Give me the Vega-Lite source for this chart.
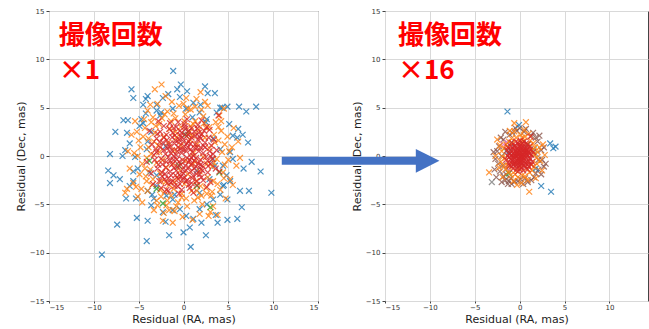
{
"$schema":"https://vega.github.io/schema/vega-lite/v6.json",
"padding":{"left":14,"top":6,"right":0,"bottom":2},
"spacing":67,
"bounds":"flush",
"resolve":{"scale":{"x":"independent","y":"independent"}},
"config":{
 "view":{"stroke":"#444","strokeWidth":1},
 "axis":{"domain":false,"grid":true,"gridColor":"#d9d9d9","gridWidth":1,"labelFont":"DejaVu Sans","labelFontSize":7,"labelColor":"#333","tickColor":"#444","tickSize":3,"labelPadding":2,"titleFont":"DejaVu Sans","titleFontSize":11,"titleFontWeight":"normal","titleColor":"#222","titlePadding":3},
 "axisX":{"tickSize":2,"labelPadding":0.5,"titlePadding":3},
 "legend":{"disable":true}
},
"datasets":{
 "left":[
{"s":"b","x":-1.15,"y":8.8},{"s":"b","x":-9.1,"y":-10.2},{"s":"b","x":9.8,"y":-3.8},{"s":"b","x":8.6,"y":-1.6},{"s":"b","x":8.1,"y":5.1},{"s":"b","x":7.0,"y":4.6},{"s":"b","x":7.6,"y":-0.6},{"s":"b","x":7.2,"y":1.4},{"s":"b","x":7.3,"y":-3.6},{"s":"b","x":6.3,"y":-3.6},{"s":"b","x":6.5,"y":-5.3},{"s":"b","x":6.0,"y":-6.5},{"s":"b","x":4.9,"y":-6.6},{"s":"b","x":6.7,"y":-1.3},{"s":"b","x":4.9,"y":-4.5},{"s":"b","x":5.1,"y":3.3},{"s":"b","x":6.2,"y":5.1},{"s":"b","x":4.9,"y":5.1},{"s":"b","x":3.7,"y":4.5},{"s":"b","x":4.3,"y":5.0},{"s":"b","x":2.4,"y":7.2},{"s":"b","x":2.7,"y":6.5},{"s":"b","x":3.5,"y":6.5},{"s":"b","x":0.4,"y":6.7},{"s":"b","x":-0.3,"y":7.4},{"s":"b","x":-0.7,"y":6.9},{"s":"b","x":-0.4,"y":6.1},{"s":"b","x":-1.7,"y":6.4},{"s":"b","x":-2.3,"y":6.0},{"s":"b","x":-4.0,"y":6.2},{"s":"b","x":-4.2,"y":5.9},{"s":"b","x":-4.5,"y":5.3},{"s":"b","x":-5.8,"y":6.9},{"s":"b","x":-5.6,"y":6.0},{"s":"b","x":-6.2,"y":3.7},{"s":"b","x":-6.7,"y":3.7},{"s":"b","x":-7.6,"y":2.5},{"s":"b","x":-6.3,"y":2.4},{"s":"b","x":-8.2,"y":0.2},{"s":"b","x":-8.4,"y":-1.5},{"s":"b","x":-8.2,"y":-2.8},{"s":"b","x":-7.8,"y":-2.0},{"s":"b","x":-7.1,"y":-2.4},{"s":"b","x":-6.8,"y":0.0},{"s":"b","x":-6.4,"y":-4.4},{"s":"b","x":-7.4,"y":-7.1},{"s":"b","x":-6.0,"y":-3.1},{"s":"b","x":-5.6,"y":-2.6},{"s":"b","x":-5.2,"y":-6.4},{"s":"b","x":-5.6,"y":-1.6},{"s":"b","x":-5.3,"y":-4.4},{"s":"b","x":-4.0,"y":-6.7},{"s":"b","x":-4.1,"y":-8.8},{"s":"b","x":-2.0,"y":-6.8},{"s":"b","x":-1.6,"y":-8.2},{"s":"b","x":0.0,"y":-7.9},{"s":"b","x":0.7,"y":-7.4},{"s":"b","x":0.8,"y":-9.4},{"s":"b","x":1.1,"y":-6.5},{"s":"b","x":2.0,"y":-6.9},{"s":"b","x":2.5,"y":-8.2},{"s":"b","x":3.6,"y":-6.1},{"s":"b","x":3.8,"y":-6.9},{"s":"b","x":4.1,"y":-4.0},{"s":"b","x":5.2,"y":-2.6},{"s":"b","x":5.5,"y":-0.3},{"s":"b","x":5.2,"y":0.4},{"s":"b","x":6.0,"y":1.9},{"s":"b","x":6.1,"y":2.8},{"s":"b","x":5.5,"y":2.1},{"s":"b","x":6.6,"y":2.2},{"s":"b","x":4.1,"y":5.0},{"s":"b","x":1.9,"y":5.3},{"s":"b","x":1.1,"y":5.5},{"s":"b","x":-3.0,"y":5.3},{"s":"b","x":-3.0,"y":4.7},{"s":"b","x":-4.2,"y":4.4},{"s":"b","x":-4.5,"y":3.4},{"s":"b","x":-4.7,"y":3.8},{"s":"b","x":-4.9,"y":3.1},{"s":"b","x":-6.0,"y":1.3},{"s":"b","x":-6.5,"y":0.6},{"s":"b","x":-5.4,"y":-0.1},{"s":"b","x":-5.1,"y":-1.3},{"s":"b","x":-4.0,"y":-3.6},{"s":"b","x":-3.3,"y":-4.4},{"s":"b","x":-3.6,"y":-5.1},{"s":"b","x":-2.3,"y":-5.8},{"s":"b","x":-1.2,"y":-5.6},{"s":"b","x":-0.4,"y":-5.5},{"s":"b","x":0.3,"y":-6.2},{"s":"b","x":1.8,"y":-5.5},{"s":"b","x":2.6,"y":-5.0},{"s":"b","x":3.3,"y":-4.5},{"s":"b","x":4.4,"y":-3.1},{"s":"b","x":4.8,"y":-2.0},{"s":"b","x":4.4,"y":-1.0},{"s":"b","x":4.1,"y":0.7},{"s":"b","x":3.3,"y":1.8},{"s":"b","x":2.6,"y":3.8},{"s":"b","x":1.8,"y":4.5},{"s":"b","x":0.3,"y":4.9},{"s":"b","x":-1.2,"y":4.9},{"s":"b","x":-2.6,"y":4.2},{"s":"b","x":-3.6,"y":2.5},{"s":"b","x":-4.1,"y":0.7},{"s":"b","x":-3.8,"y":-1.7},{"s":"b","x":-3.0,"y":-3.1},{"s":"b","x":-1.9,"y":-4.1},{"s":"b","x":1.8,"y":-3.8},{"s":"b","x":2.9,"y":-2.4},{"s":"b","x":3.3,"y":-0.3},{"s":"b","x":-1.2,"y":-4.5},{"s":"b","x":-2.0,"y":1.0},{"s":"b","x":1.5,"y":-1.5},{"s":"b","x":0.5,"y":2.5},{"s":"b","x":-3.0,"y":-2.0},{"s":"b","x":2.5,"y":3.5},{"s":"b","x":-1.0,"y":-4.0},{"s":"b","x":3.5,"y":-1.0},{"s":"b","x":-4.0,"y":1.5},{"s":"b","x":1.0,"y":4.0},{"s":"b","x":-2.5,"y":4.5},{"s":"b","x":4.5,"y":-3.0},{"s":"b","x":-3.5,"y":-4.0},
{"s":"o","x":-2.45,"y":7.4},{"s":"o","x":-3.2,"y":6.9},{"s":"o","x":1.45,"y":5.9},{"s":"o","x":-5.4,"y":3.6},{"s":"o","x":-5.2,"y":2.5},{"s":"o","x":-6.3,"y":-3.4},{"s":"o","x":-6.5,"y":-3.8},{"s":"o","x":-5.1,"y":-4.2},{"s":"o","x":-2.3,"y":-6.7},{"s":"o","x":-1.2,"y":-6.9},{"s":"o","x":-1.0,"y":-5.7},{"s":"o","x":1.8,"y":-6.0},{"s":"o","x":3.3,"y":-5.2},{"s":"o","x":-0.5,"y":5.2},{"s":"o","x":0.8,"y":4.8},{"s":"o","x":-1.8,"y":4.6},{"s":"o","x":2.2,"y":4.1},{"s":"o","x":-3.4,"y":4.0},{"s":"o","x":3.6,"y":3.5},{"s":"o","x":-4.3,"y":2.9},{"s":"o","x":4.2,"y":2.6},{"s":"o","x":-2.7,"y":3.3},{"s":"o","x":1.3,"y":3.6},{"s":"o","x":-0.9,"y":3.9},{"s":"o","x":0.2,"y":4.3},{"s":"o","x":2.9,"y":3.0},{"s":"o","x":-3.9,"y":1.8},{"s":"o","x":4.6,"y":1.2},{"s":"o","x":-4.8,"y":0.9},{"s":"o","x":5.0,"y":-0.4},{"s":"o","x":-4.6,"y":-0.8},{"s":"o","x":4.4,"y":-1.7},{"s":"o","x":-4.2,"y":-2.1},{"s":"o","x":3.8,"y":-2.9},{"s":"o","x":-3.5,"y":-3.0},{"s":"o","x":2.6,"y":-3.9},{"s":"o","x":-2.5,"y":-4.2},{"s":"o","x":1.2,"y":-4.6},{"s":"o","x":-0.6,"y":-4.8},{"s":"o","x":0.4,"y":-5.2},{"s":"o","x":-1.9,"y":-5.1},{"s":"o","x":2.1,"y":-5.0},{"s":"o","x":3.1,"y":-4.1},{"s":"o","x":-3.0,"y":-4.6},{"s":"o","x":-4.0,"y":-3.6},{"s":"o","x":4.1,"y":-3.5},{"s":"o","x":-4.9,"y":-1.9},{"s":"o","x":5.2,"y":-2.4},{"s":"o","x":-5.5,"y":0.3},{"s":"o","x":5.4,"y":0.9},{"s":"o","x":-5.0,"y":1.6},{"s":"o","x":4.9,"y":2.0},{"s":"o","x":-3.2,"y":2.4},{"s":"o","x":3.4,"y":2.2},{"s":"o","x":-2.2,"y":2.0},{"s":"o","x":2.4,"y":1.9},{"s":"o","x":-1.5,"y":2.8},{"s":"o","x":1.7,"y":2.7},{"s":"o","x":-0.3,"y":3.0},{"s":"o","x":0.6,"y":2.4},{"s":"o","x":-2.8,"y":1.1},{"s":"o","x":2.9,"y":0.8},{"s":"o","x":-3.6,"y":0.2},{"s":"o","x":3.7,"y":-0.3},{"s":"o","x":-3.0,"y":-0.7},{"s":"o","x":3.2,"y":-1.1},{"s":"o","x":-2.6,"y":-1.8},{"s":"o","x":2.7,"y":-2.2},{"s":"o","x":-2.0,"y":-2.7},{"s":"o","x":1.9,"y":-3.1},{"s":"o","x":-1.1,"y":-3.4},{"s":"o","x":0.9,"y":-3.6},{"s":"o","x":-0.2,"y":-3.9},{"s":"o","x":0.1,"y":-2.9},{"s":"o","x":-1.6,"y":-3.0},{"s":"o","x":1.4,"y":-2.6},{"s":"o","x":-2.3,"y":-0.4},{"s":"o","x":2.2,"y":-0.1},{"s":"o","x":-1.7,"y":1.4},{"s":"o","x":1.5,"y":1.2},{"s":"o","x":-0.8,"y":1.9},{"s":"o","x":0.7,"y":1.7},{"s":"o","x":-4.4,"y":3.8},{"s":"o","x":4.0,"y":4.2},{"s":"o","x":-1.3,"y":5.6},{"s":"o","x":0.3,"y":6.0},{"s":"o","x":2.7,"y":5.2},{"s":"o","x":-2.9,"y":5.4},{"s":"o","x":3.0,"y":-5.8},{"s":"o","x":-3.3,"y":-5.6},{"s":"o","x":-0.1,"y":-6.3},{"s":"o","x":1.0,"y":-6.6},{"s":"o","x":5.9,"y":-1.0},{"s":"o","x":-6.0,"y":-1.3},{"s":"o","x":6.1,"y":1.5},{"s":"o","x":-5.8,"y":2.2},{"s":"o","x":-1.0,"y":0.6},{"s":"o","x":0.9,"y":-0.9},{"s":"o","x":-0.4,"y":-1.5},{"s":"o","x":1.1,"y":0.3},{"s":"o","x":-1.9,"y":-1.2},{"s":"o","x":1.8,"y":-1.6},{"s":"o","x":-2.4,"y":3.9},{"s":"o","x":2.3,"y":3.4},{"s":"o","x":-3.7,"y":-1.4},{"s":"o","x":3.5,"y":1.4},{"s":"o","x":-4.1,"y":-0.2},{"s":"o","x":4.3,"y":0.4},{"s":"o","x":-0.7,"y":-2.2},{"s":"o","x":0.5,"y":-1.9},{"s":"o","x":-1.4,"y":-4.1},{"s":"o","x":1.6,"y":-4.3},{"s":"o","x":-2.1,"y":-3.7},{"s":"o","x":2.5,"y":-3.3},{"s":"o","x":-3.1,"y":3.1},{"s":"o","x":3.9,"y":3.0},{"s":"o","x":-4.5,"y":2.0},{"s":"o","x":5.6,"y":2.9},{"s":"o","x":-5.6,"y":-2.8},{"s":"o","x":4.7,"y":-4.4},{"s":"o","x":-4.6,"y":-4.8},{"s":"o","x":3.8,"y":-6.1},{"s":"o","x":-2.0,"y":6.2},{"s":"o","x":1.9,"y":6.6},{"s":"o","x":-3.7,"y":5.3},{"s":"o","x":4.5,"y":4.9},{"s":"o","x":-0.3,"y":1.1},{"s":"o","x":0.2,"y":-0.5},{"s":"o","x":-1.2,"y":-0.8},{"s":"o","x":1.3,"y":-0.6},{"s":"o","x":-0.9,"y":2.5},{"s":"o","x":0.8,"y":3.1},{"s":"o","x":-2.7,"y":0.4},{"s":"o","x":2.6,"y":-0.8},{"s":"o","x":-3.4,"y":-2.4},{"s":"o","x":3.3,"y":-2.6},{"s":"o","x":-1.8,"y":-4.6},{"s":"o","x":0.3,"y":-4.4},{"s":"o","x":2.0,"y":4.8},{"s":"o","x":-1.1,"y":4.4},{"s":"o","x":-5.3,"y":-3.2},{"s":"o","x":5.5,"y":-3.0},{"s":"o","x":-2.2,"y":-5.9},{"s":"o","x":2.8,"y":-6.2},{"s":"o","x":0.0,"y":5.4},{"s":"o","x":-4.0,"y":4.7},{"s":"o","x":6.3,"y":-0.2},{"s":"o","x":-6.2,"y":0.5},{"s":"o","x":1.0,"y":2.1},{"s":"o","x":-2.5,"y":-2.6},
{"s":"o","x":-3.3,"y":1.5},{"s":"o","x":3.4,"y":-0.7},{"s":"o","x":-1.0,"y":-2.7},{"s":"o","x":1.1,"y":3.3},{"s":"o","x":-4.1,"y":-2.6},{"s":"o","x":4.5,"y":-2.3},{"s":"o","x":-2.1,"y":4.3},{"s":"o","x":2.0,"y":-4.1},{"s":"o","x":-3.9,"y":0.9},{"s":"o","x":3.9,"y":1.6},{"s":"o","x":-0.8,"y":-5.2},{"s":"o","x":0.5,"y":4.9},{"s":"o","x":-4.7,"y":-3.4},{"s":"o","x":4.2,"y":3.6},{"s":"o","x":-2.6,"y":-3.5},{"s":"o","x":2.5,"y":2.9},{"s":"o","x":-1.4,"y":3.6},{"s":"o","x":1.5,"y":-3.6},{"s":"o","x":-3.6,"y":3.5},{"s":"o","x":3.2,"y":-3.7},{"s":"o","x":-0.2,"y":-4.3},{"s":"o","x":0.1,"y":3.6},{"s":"o","x":-5.1,"y":0.0},{"s":"o","x":5.1,"y":0.5},{"s":"o","x":-2.9,"y":-5.1},{"s":"o","x":2.4,"y":5.6},{"s":"o","x":-4.3,"y":-1.3},{"s":"o","x":4.6,"y":-0.9},{"s":"o","x":-1.6,"y":-5.6},{"s":"o","x":1.3,"y":5.1},
{"s":"g","x":-3.0,"y":-3.4},{"s":"g","x":-2.3,"y":-4.9},{"s":"g","x":4.0,"y":-1.7},{"s":"g","x":-0.5,"y":-1.0},{"s":"g","x":1.5,"y":-3.1},{"s":"g","x":0.2,"y":2.2},{"s":"g","x":-3.8,"y":-0.5},{"s":"g","x":3.0,"y":-5.3},
{"s":"r","x":-3.0,"y":1.8},{"s":"r","x":-2.6,"y":2.5},{"s":"r","x":-2.2,"y":3.1},{"s":"r","x":-1.5,"y":3.4},{"s":"r","x":-0.8,"y":3.0},{"s":"r","x":0.1,"y":3.3},{"s":"r","x":0.9,"y":2.9},{"s":"r","x":1.6,"y":3.2},{"s":"r","x":2.3,"y":2.6},{"s":"r","x":2.8,"y":1.9},{"s":"r","x":3.1,"y":1.1},{"s":"r","x":3.3,"y":0.2},{"s":"r","x":3.0,"y":-0.8},{"s":"r","x":2.7,"y":-1.7},{"s":"r","x":2.2,"y":-2.5},{"s":"r","x":1.5,"y":-3.0},{"s":"r","x":0.7,"y":-3.3},{"s":"r","x":-0.2,"y":-3.5},{"s":"r","x":-1.0,"y":-3.1},{"s":"r","x":-1.8,"y":-2.8},{"s":"r","x":-2.4,"y":-2.1},{"s":"r","x":-2.9,"y":-1.3},{"s":"r","x":-3.2,"y":-0.4},{"s":"r","x":-3.1,"y":0.7},{"s":"r","x":-2.3,"y":1.4},{"s":"r","x":-1.9,"y":2.2},{"s":"r","x":-1.2,"y":2.4},{"s":"r","x":-0.4,"y":2.6},{"s":"r","x":0.5,"y":2.2},{"s":"r","x":1.2,"y":2.5},{"s":"r","x":1.9,"y":1.8},{"s":"r","x":2.4,"y":0.9},{"s":"r","x":2.5,"y":-0.1},{"s":"r","x":2.1,"y":-1.0},{"s":"r","x":1.8,"y":-1.9},{"s":"r","x":1.0,"y":-2.3},{"s":"r","x":0.3,"y":-2.6},{"s":"r","x":-0.6,"y":-2.4},{"s":"r","x":-1.4,"y":-2.0},{"s":"r","x":-2.0,"y":-1.2},{"s":"r","x":-2.5,"y":-0.3},{"s":"r","x":-2.2,"y":0.6},{"s":"r","x":-1.6,"y":1.2},{"s":"r","x":-0.9,"y":1.6},{"s":"r","x":-0.2,"y":1.9},{"s":"r","x":0.6,"y":1.5},{"s":"r","x":1.3,"y":1.2},{"s":"r","x":1.7,"y":0.5},{"s":"r","x":1.9,"y":-0.4},{"s":"r","x":1.4,"y":-1.1},{"s":"r","x":0.8,"y":-1.6},{"s":"r","x":0.0,"y":-1.8},{"s":"r","x":-0.8,"y":-1.5},{"s":"r","x":-1.3,"y":-0.9},{"s":"r","x":-1.7,"y":-0.1},{"s":"r","x":-1.3,"y":0.6},{"s":"r","x":-0.6,"y":0.9},{"s":"r","x":0.1,"y":1.0},{"s":"r","x":0.8,"y":0.7},{"s":"r","x":1.1,"y":0.0},{"s":"r","x":0.9,"y":-0.8},{"s":"r","x":0.2,"y":-1.0},{"s":"r","x":-0.5,"y":-0.6},{"s":"r","x":-0.8,"y":0.1},{"s":"r","x":-0.2,"y":0.3},{"s":"r","x":0.4,"y":-0.2},{"s":"r","x":-0.1,"y":-0.4},{"s":"r","x":0.3,"y":0.5},{"s":"r","x":-1.1,"y":2.9},{"s":"r","x":1.5,"y":-2.6},{"s":"r","x":-2.7,"y":-2.6},{"s":"r","x":2.9,"y":2.7},{"s":"r","x":-3.5,"y":1.2},{"s":"r","x":3.6,"y":-1.3},{"s":"r","x":-1.7,"y":-3.6},{"s":"r","x":0.4,"y":3.8},{"s":"r","x":-0.5,"y":-3.9},{"s":"r","x":3.9,"y":4.2},{"s":"r","x":2.0,"y":3.7},{"s":"r","x":-2.8,"y":3.6},{"s":"r","x":-3.6,"y":-1.8},{"s":"r","x":3.7,"y":0.6},{"s":"r","x":1.1,"y":-3.8},{"s":"r","x":-1.9,"y":-3.5},{"s":"r","x":2.6,"y":-3.2},{"s":"r","x":-3.4,"y":-2.9},{"s":"r","x":-0.3,"y":2.1},{"s":"r","x":0.9,"y":-2.8},{"s":"r","x":-2.0,"y":0.2},{"s":"r","x":2.2,"y":0.3},{"s":"r","x":-0.7,"y":-1.1},{"s":"r","x":1.6,"y":1.7},{"s":"r","x":-1.5,"y":-1.6},{"s":"r","x":0.5,"y":0.9},{"s":"r","x":-0.9,"y":-2.0},{"s":"r","x":1.2,"y":-1.3},{"s":"r","x":-2.6,"y":0.9},{"s":"r","x":2.7,"y":-0.5},{"s":"r","x":-1.0,"y":1.3},{"s":"r","x":0.7,"y":-0.4},{"s":"r","x":-0.4,"y":-2.9},{"s":"r","x":0.2,"y":2.8},{"s":"r","x":-1.8,"y":0.8},{"s":"r","x":1.9,"y":-0.9},{"s":"r","x":-2.4,"y":-1.7},{"s":"r","x":2.4,"y":1.4},{"s":"r","x":-1.2,"y":-2.6},{"s":"r","x":1.3,"y":2.1},{"s":"r","x":-0.1,"y":-1.4},{"s":"r","x":0.0,"y":1.5},{"s":"r","x":-2.1,"y":-2.4},{"s":"r","x":2.0,"y":-2.2},{"s":"r","x":-1.6,"y":2.8},{"s":"r","x":1.7,"y":2.4},{"s":"r","x":-3.3,"y":0.1},{"s":"r","x":3.2,"y":-0.3},{"s":"r","x":-0.6,"y":3.5},{"s":"r","x":0.6,"y":-3.0},{"s":"r","x":-2.8,"y":-0.9},{"s":"r","x":2.9,"y":0.5},{"s":"r","x":-1.4,"y":0.3},{"s":"r","x":1.4,"y":-0.2},{"s":"r","x":-0.3,"y":-0.9},{"s":"r","x":0.4,"y":1.3},{"s":"r","x":-1.1,"y":-0.4},{"s":"r","x":1.0,"y":0.4},{"s":"r","x":-0.7,"y":0.5},{"s":"r","x":0.6,"y":-1.2},{"s":"r","x":-2.2,"y":1.9},{"s":"r","x":2.1,"y":-1.5},{"s":"r","x":-1.7,"y":-2.3},{"s":"r","x":1.8,"y":2.0},{"s":"r","x":-0.5,"y":1.7},{"s":"r","x":0.9,"y":1.9},{"s":"r","x":-2.5,"y":-3.3},{"s":"r","x":3.4,"y":1.7},{"s":"r","x":-3.8,"y":2.6},{"s":"r","x":3.0,"y":-2.7},{"s":"r","x":4.0,"y":-1.6},{"s":"r","x":-4.1,"y":-0.6},{"s":"r","x":0.1,"y":-2.2},{"s":"r","x":-0.2,"y":2.4},{"s":"r","x":1.5,"y":0.9},{"s":"r","x":-1.5,"y":-0.5},{"s":"r","x":-2.9,"y":2.3},{"s":"r","x":2.6,"y":3.0},
{"s":"r","x":-0.35,"y":0.75},{"s":"r","x":0.55,"y":-0.65},{"s":"r","x":-1.05,"y":-1.25},{"s":"r","x":1.25,"y":0.85},{"s":"r","x":-1.55,"y":0.95},{"s":"r","x":1.65,"y":-0.75},{"s":"r","x":-0.15,"y":-2.45},{"s":"r","x":0.35,"y":2.05},{"s":"r","x":-2.35,"y":-0.85},{"s":"r","x":2.25,"y":1.05},{"s":"r","x":-0.95,"y":2.15},{"s":"r","x":1.05,"y":-2.05},{"s":"r","x":-1.85,"y":1.65},{"s":"r","x":1.95,"y":-1.35},{"s":"r","x":-0.45,"y":-1.95},{"s":"r","x":0.75,"y":1.25},{"s":"r","x":-1.25,"y":1.95},{"s":"r","x":1.45,"y":-1.85},{"s":"r","x":-2.05,"y":-1.85},{"s":"r","x":2.05,"y":2.25},{"s":"r","x":-0.65,"y":-3.15},{"s":"r","x":0.15,"y":3.05},{"s":"r","x":-2.65,"y":1.45},{"s":"r","x":2.75,"y":-1.05},{"s":"r","x":-0.05,"y":0.65},{"s":"r","x":0.85,"y":-0.15},{"s":"r","x":-0.75,"y":-0.35},{"s":"r","x":0.25,"y":-1.45},{"s":"r","x":-1.45,"y":-2.75},{"s":"r","x":1.55,"y":2.85},{"s":"r","x":-3.0,"y":0.4},{"s":"r","x":3.0,"y":0.0},{"s":"r","x":-0.3,"y":-2.1},{"s":"r","x":0.6,"y":2.6},{"s":"r","x":-1.9,"y":-0.6},{"s":"r","x":1.9,"y":0.9},{"s":"r","x":-1.1,"y":0.0},{"s":"r","x":1.2,"y":-0.5},{"s":"r","x":-0.5,"y":1.4},{"s":"r","x":0.4,"y":-2.5}
 ],
 "right":[
{"s":"n","x":-1.6,"y":-2.5},{"s":"n","x":-0.55,"y":-2.65},{"s":"n","x":-2.5,"y":0.5},{"s":"n","x":-2.4,"y":-0.8},{"s":"n","x":-2.2,"y":-1.6},{"s":"n","x":-1.8,"y":-2.1},{"s":"n","x":-0.9,"y":-2.9},{"s":"n","x":0.1,"y":-2.4},{"s":"n","x":0.9,"y":-2.7},{"s":"n","x":1.6,"y":-2.2},{"s":"n","x":2.1,"y":-1.4},{"s":"n","x":2.5,"y":-0.4},{"s":"n","x":2.4,"y":0.6},{"s":"n","x":2.0,"y":1.5},{"s":"n","x":1.3,"y":2.1},{"s":"n","x":0.5,"y":2.5},{"s":"n","x":-0.3,"y":2.6},{"s":"n","x":-1.1,"y":2.2},{"s":"n","x":-1.8,"y":1.7},{"s":"n","x":-2.3,"y":1.0},{"s":"n","x":-2.7,"y":-0.3},{"s":"n","x":-2.0,"y":-2.7},{"s":"n","x":-1.3,"y":-2.9},{"s":"n","x":0.4,"y":-2.9},{"s":"n","x":1.3,"y":-2.5},{"s":"n","x":2.4,"y":-1.9},{"s":"n","x":2.7,"y":0.9},{"s":"n","x":2.2,"y":2.1},{"s":"n","x":0.0,"y":2.9},{"s":"n","x":-0.8,"y":2.4},{"s":"n","x":-1.6,"y":2.5},{"s":"n","x":-2.8,"y":-1.4},{"s":"n","x":-2.1,"y":1.9},{"s":"n","x":-1.9,"y":-1.0},{"s":"n","x":1.8,"y":1.9},{"s":"n","x":-2.6,"y":-2.2},{"s":"n","x":2.9,"y":-0.8},{"s":"n","x":-0.2,"y":-2.6},{"s":"n","x":0.7,"y":2.8},{"s":"n","x":-1.0,"y":-2.3},{"s":"n","x":1.8,"y":-1.8},{"s":"n","x":-2.0,"y":0.0},{"s":"n","x":2.1,"y":-0.4},{"s":"n","x":-1.2,"y":-2.6},{"s":"n","x":2.7,"y":-1.1},{"s":"n","x":-2.9,"y":0.4},{"s":"n","x":1.5,"y":2.4},{"s":"n","x":-0.5,"y":2.9},{"s":"n","x":0.6,"y":-2.3},{"s":"n","x":-1.5,"y":-1.9},
{"s":"k","x":-3.1,"y":-2.7},{"s":"k","x":1.8,"y":0.2},{"s":"p","x":-1.4,"y":1.4},{"s":"p","x":-1.8,"y":1.2},{"s":"c","x":1.6,"y":0.7},{"s":"c","x":-1.5,"y":0.5},{"s":"u","x":-1.4,"y":-1.3},{"s":"g","x":-1.2,"y":-1.8},{"s":"g","x":0.9,"y":1.2},
{"s":"b","x":-1.36,"y":4.6},{"s":"b","x":-0.07,"y":3.2},{"s":"b","x":3.4,"y":1.3},{"s":"b","x":3.75,"y":0.8},{"s":"b","x":4.0,"y":0.97},{"s":"b","x":2.4,"y":-3.1},{"s":"b","x":3.5,"y":-3.7},{"s":"b","x":1.8,"y":-1.3},{"s":"b","x":-1.0,"y":1.3},{"s":"b","x":-1.2,"y":0.4},
{"s":"o","x":-0.6,"y":3.4},{"s":"o","x":0.7,"y":3.5},{"s":"o","x":1.07,"y":-3.7},{"s":"o","x":-3.4,"y":-1.7},{"s":"o","x":-2.7,"y":0.0},{"s":"o","x":2.6,"y":1.2},{"s":"o","x":-0.6,"y":2.55},{"s":"o","x":0.3,"y":1.9},{"s":"o","x":1.2,"y":1.6},{"s":"o","x":1.7,"y":0.9},{"s":"o","x":1.9,"y":-0.2},{"s":"o","x":1.6,"y":-1.1},{"s":"o","x":1.1,"y":-1.7},{"s":"o","x":0.3,"y":-2.0},{"s":"o","x":-0.5,"y":-1.9},{"s":"o","x":-1.2,"y":-1.6},{"s":"o","x":-1.7,"y":-1.0},{"s":"o","x":-1.9,"y":-0.1},{"s":"o","x":-1.7,"y":0.8},{"s":"o","x":-1.2,"y":1.5},{"s":"o","x":-0.4,"y":1.9},{"s":"o","x":0.6,"y":2.0},{"s":"o","x":1.5,"y":1.3},{"s":"o","x":2.0,"y":0.4},{"s":"o","x":1.9,"y":-0.8},{"s":"o","x":1.4,"y":-1.5},{"s":"o","x":0.6,"y":-2.1},{"s":"o","x":-0.2,"y":-2.2},{"s":"o","x":-1.0,"y":-2.0},{"s":"o","x":-1.6,"y":-1.4},{"s":"o","x":-2.1,"y":-0.6},{"s":"o","x":-2.0,"y":0.5},{"s":"o","x":-1.5,"y":1.2},{"s":"o","x":-0.9,"y":1.8},{"s":"o","x":0.1,"y":2.2},{"s":"o","x":1.0,"y":2.3},{"s":"o","x":2.3,"y":-0.5},{"s":"o","x":2.2,"y":0.9},{"s":"o","x":-2.3,"y":-1.2},{"s":"o","x":-2.2,"y":1.1},{"s":"o","x":0.9,"y":-2.5},{"s":"o","x":-0.7,"y":-2.6},{"s":"o","x":0.2,"y":-2.8},{"s":"o","x":1.2,"y":1.0},{"s":"o","x":-1.3,"y":-1.0},{"s":"o","x":1.3,"y":-0.9},{"s":"o","x":-1.3,"y":0.9},{"s":"o","x":0.4,"y":1.5},{"s":"o","x":-0.4,"y":-1.5},{"s":"o","x":1.6,"y":0.2},{"s":"o","x":-1.6,"y":-0.2},{"s":"o","x":0.8,"y":-1.3},{"s":"o","x":-0.8,"y":1.3},{"s":"o","x":2.5,"y":-1.5},{"s":"o","x":-2.5,"y":1.7},{"s":"o","x":0.5,"y":2.7},{"s":"o","x":-1.1,"y":2.6},{"s":"o","x":2.8,"y":0.1},{"s":"o","x":-0.3,"y":-3.0},{"s":"o","x":1.8,"y":-2.3},{"s":"o","x":-1.9,"y":-2.2},{"s":"o","x":0.0,"y":-1.3},{"s":"o","x":0.1,"y":1.4},{"s":"o","x":1.4,"y":0.6},
{"s":"r","x":0,"y":0},{"s":"r","x":0.3,"y":0.2},{"s":"r","x":-0.3,"y":0.4},{"s":"r","x":0.5,"y":-0.3},{"s":"r","x":-0.5,"y":-0.2},{"s":"r","x":0.1,"y":0.7},{"s":"r","x":-0.1,"y":-0.7},{"s":"r","x":0.7,"y":0.5},{"s":"r","x":-0.7,"y":0.6},{"s":"r","x":0.8,"y":-0.6},{"s":"r","x":-0.8,"y":-0.5},{"s":"r","x":0.2,"y":-0.4},{"s":"r","x":-0.2,"y":0.1},{"s":"r","x":0.4,"y":0.9},{"s":"r","x":-0.4,"y":-0.9},{"s":"r","x":0.9,"y":0.1},{"s":"r","x":-0.9,"y":0.0},{"s":"r","x":0.6,"y":0.0},{"s":"r","x":-0.6,"y":0.1},{"s":"r","x":0.0,"y":1.0},{"s":"r","x":0.0,"y":-1.0},{"s":"r","x":0.3,"y":-0.8},{"s":"r","x":-0.3,"y":0.8},{"s":"r","x":1.0,"y":0.4},{"s":"r","x":-1.0,"y":-0.3},{"s":"r","x":0.5,"y":0.6},{"s":"r","x":-0.5,"y":-0.6},{"s":"r","x":0.2,"y":0.4},{"s":"r","x":-0.2,"y":-0.3},{"s":"r","x":0.8,"y":0.9},{"s":"r","x":-0.8,"y":0.9},{"s":"r","x":0.9,"y":-0.9},{"s":"r","x":-0.7,"y":-0.9},{"s":"r","x":1.1,"y":-0.2},{"s":"r","x":-1.1,"y":0.3},{"s":"r","x":0.1,"y":-0.1},{"s":"r","x":0.4,"y":-0.1},{"s":"r","x":-0.4,"y":0.0},{"s":"r","x":0.0,"y":0.5},{"s":"r","x":0.1,"y":-0.6},{"s":"r","x":0.6,"y":-0.7},{"s":"r","x":-0.6,"y":0.3},{"s":"r","x":0.7,"y":0.2},{"s":"r","x":-0.1,"y":1.2},{"s":"r","x":0.2,"y":-1.2},{"s":"r","x":0.3,"y":1.3},{"s":"r","x":-0.5,"y":1.1},{"s":"r","x":0.6,"y":-1.1},{"s":"r","x":-0.3,"y":-1.3},{"s":"r","x":1.2,"y":0.7},{"s":"r","x":-1.2,"y":-0.8},{"s":"r","x":0.9,"y":1.2},{"s":"r","x":-1.0,"y":1.0},{"s":"r","x":1.0,"y":-1.1},{"s":"r","x":-0.9,"y":-1.1},{"s":"r","x":1.3,"y":0.1},{"s":"r","x":-1.3,"y":0.0},{"s":"r","x":0.5,"y":1.5},{"s":"r","x":-0.2,"y":-1.6},{"s":"r","x":1.4,"y":-0.6},{"s":"r","x":-1.4,"y":0.6},{"s":"r","x":0.0,"y":0.2},{"s":"r","x":0.2,"y":0.0},{"s":"r","x":-0.1,"y":-0.2},{"s":"r","x":1.2,"y":2.0},
{"s":"r","x":0.15,"y":0.85},{"s":"r","x":-0.25,"y":-0.55},{"s":"r","x":0.65,"y":0.35},{"s":"r","x":-0.65,"y":-0.15},{"s":"r","x":0.35,"y":-0.45},{"s":"r","x":-0.45,"y":0.55},{"s":"r","x":1.05,"y":-0.55},{"s":"r","x":-1.05,"y":0.65},{"s":"r","x":0.25,"y":1.05},{"s":"r","x":-0.15,"y":-1.05},{"s":"r","x":0.85,"y":0.65},{"s":"r","x":-0.85,"y":-0.75},{"s":"r","x":0.55,"y":-0.95},{"s":"r","x":-0.55,"y":0.95},{"s":"r","x":1.15,"y":0.25},{"s":"r","x":-1.15,"y":-0.15},{"s":"r","x":0.05,"y":-0.35},{"s":"r","x":-0.35,"y":0.25},{"s":"r","x":0.45,"y":0.15},{"s":"r","x":0.75,"y":-0.25},{"s":"r","x":-0.75,"y":0.25},{"s":"r","x":0.15,"y":-0.85},{"s":"r","x":-0.05,"y":0.35},{"s":"r","x":1.3,"y":-0.9},{"s":"r","x":-1.3,"y":0.9},{"s":"r","x":0.7,"y":1.3},{"s":"r","x":-0.7,"y":-1.3},{"s":"r","x":1.5,"y":0.4},{"s":"r","x":-1.5,"y":-0.4},{"s":"r","x":0.1,"y":1.6},{"s":"r","x":-0.9,"y":1.4},{"s":"r","x":0.9,"y":-1.4},{"s":"r","x":-0.4,"y":1.5},{"s":"r","x":0.4,"y":-1.5},{"s":"r","x":1.1,"y":1.0},{"s":"r","x":-1.1,"y":-1.0},{"s":"r","x":0.0,"y":-1.4},{"s":"r","x":-0.2,"y":1.4},{"s":"r","x":0.6,"y":0.8},{"s":"r","x":-0.6,"y":-0.8},{"s":"r","x":0.95,"y":0.35},{"s":"r","x":-0.95,"y":-0.35},{"s":"r","x":0.25,"y":-0.15},{"s":"r","x":-0.25,"y":0.65},{"s":"r","x":0.5,"y":0.4},{"s":"r","x":-0.5,"y":0.0},{"s":"r","x":1.2,"y":-0.3},{"s":"r","x":-1.2,"y":0.2},{"s":"r","x":0.35,"y":0.55},{"s":"r","x":-0.35,"y":-0.65}
 ],
 "labL":[{"t":"撮像回数","x":-13.9,"y":12.4},{"t":"×1","x":-13.9,"y":8.8}],
 "labR":[{"t":"撮像回数","x":-13.55,"y":12.4},{"t":"×16","x":-13.55,"y":8.8}],
 "arrowBody":[{"x":-26.5,"x2":-11.3,"y":-0.5}],
 "arrowHead":[{"x":-10.25,"y":-0.5}]
},
"hconcat":[
 {"width":269,"height":290,
  "layer":[
   {"data":{"name":"left"},"mark":{"type":"point","shape":"M-1,-1L1,1M-1,1L1,-1","filled":false,"size":34,"strokeWidth":1.2,"opacity":0.8},
    "encoding":{
     "x":{"field":"x","type":"quantitative","scale":{"domain":[-15,15],"nice":false},"axis":{"values":[-15,-10,-5,0,5,10,15],"title":"Residual (RA, mas)"}},
     "y":{"field":"y","type":"quantitative","scale":{"domain":[-15,15],"nice":false},"axis":{"values":[-15,-10,-5,0,5,10,15],"title":"Residual (Dec, mas)"}},
     "color":{"field":"s","type":"nominal","scale":{"domain":["b","o","g","r","n","k","p","c","u"],"range":["#1f77b4","#ff7f0e","#2ca02c","#d62728","#8c564b","#7f7f7f","#e377c2","#17becf","#9467bd"]},"legend":null}
    }},
   {"data":{"name":"labL"},"mark":{"type":"text","align":"left","baseline":"middle","font":"Noto Sans CJK JP","fontWeight":"bold","fontSize":26,"color":"#ff0000"},
    "encoding":{"x":{"field":"x","type":"quantitative"},"y":{"field":"y","type":"quantitative"},"text":{"field":"t"}}}
  ]},
 {"width":263,"height":290,
  "layer":[
   {"data":{"name":"right"},"mark":{"type":"point","shape":"M-1,-1L1,1M-1,1L1,-1","filled":false,"size":34,"strokeWidth":1.2,"opacity":0.8},
    "encoding":{
     "x":{"field":"x","type":"quantitative","scale":{"domain":[-15,14.3],"nice":false},"axis":{"values":[-15,-10,-5,0,5,10],"title":"Residual (RA, mas)"}},
     "y":{"field":"y","type":"quantitative","scale":{"domain":[-15,15],"nice":false},"axis":{"values":[-15,-10,-5,0,5,10,15],"title":"Residual (Dec, mas)"}},
     "color":{"field":"s","type":"nominal","scale":{"domain":["b","o","g","r","n","k","p","c","u"],"range":["#1f77b4","#ff7f0e","#2ca02c","#d62728","#8c564b","#7f7f7f","#e377c2","#17becf","#9467bd"]},"legend":null}
    }},
   {"data":{"name":"arrowBody"},"mark":{"type":"rule","clip":false,"strokeWidth":8,"color":"#4472c4","strokeCap":"butt"},
    "encoding":{"x":{"field":"x","type":"quantitative"},"x2":{"field":"x2"},"y":{"field":"y","type":"quantitative"}}},
   {"data":{"name":"arrowHead"},"mark":{"type":"point","clip":false,"shape":"M-1,-1L1,0L-1,1Z","filled":true,"size":560,"color":"#4472c4","opacity":1,"strokeWidth":0},
    "encoding":{"x":{"field":"x","type":"quantitative"},"y":{"field":"y","type":"quantitative"}}},
   {"data":{"name":"labR"},"mark":{"type":"text","align":"left","baseline":"middle","font":"Noto Sans CJK JP","fontWeight":"bold","fontSize":26,"color":"#ff0000"},
    "encoding":{"x":{"field":"x","type":"quantitative"},"y":{"field":"y","type":"quantitative"},"text":{"field":"t"}}}
  ]}
]
}
